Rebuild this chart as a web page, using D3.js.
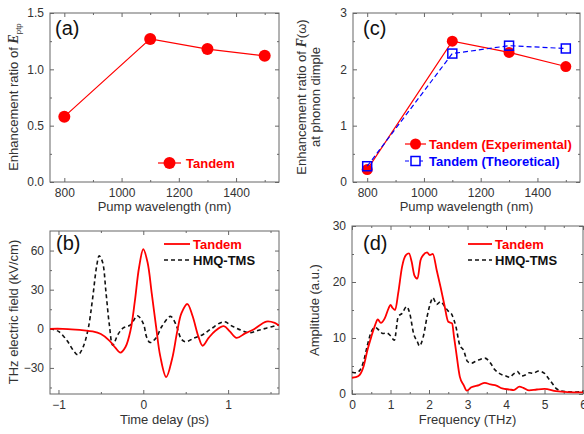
<!DOCTYPE html>
<html>
<head>
<meta charset="utf-8">
<script src="https://cdn.jsdelivr.net/npm/d3@7"></script>
<style>
  body { margin: 0; background: #fff; }
  svg { display: block; font-family: Arial, "Liberation Sans", sans-serif; }
  .tick text { fill: #333; font-size: 12px; }
  .domain { display: none; }
  .tick line { stroke: #666; }
</style>
</head>
<body>
<svg id="fig" width="584" height="434"></svg>
<script>
// panel (a) + (c): enhancement ratios vs pump wavelength
const pumpWave = [800, 1100, 1300, 1500];
const eptpTandem = [0.58, 1.27, 1.18, 1.12];
const fwExp = [0.22, 2.5, 2.3, 2.05];
const fwTheo = [0.28, 2.28, 2.42, 2.37];

// panel (b): THz waveforms [time ps, field kV/cm]
const waveTandem = [[-1.1,0],[-0.95,0],[-0.8,-0.6],[-0.7,-1.2],[-0.6,-2],[-0.5,-4],[-0.4,-9],[-0.33,-14.5],[-0.27,-18.3],[-0.21,-14],
  [-0.15,-1],[-0.1,21],[-0.05,47],[0,61],[0.05,51],[0.1,27],[0.15,2],[0.2,-21],[0.27,-37],[0.34,-23],[0.4,-2],
  [0.45,12],[0.52,19],[0.58,10],[0.65,-6],[0.7,-13],[0.77,-7],[0.85,-1.5],[0.95,2],[1.02,-2],[1.1,-7],[1.2,-3.5],
  [1.3,-0.5],[1.45,5.5],[1.55,4.5],[1.6,2.5]];
const waveHmq = [[-1.1,0],[-1.0,-2],[-0.9,-9],[-0.82,-17],[-0.77,-20],[-0.71,-14],[-0.65,0],[-0.6,22],[-0.55,48],[-0.52,56],
  [-0.48,51],[-0.44,28],[-0.4,3],[-0.36,-12.5],[-0.3,-4.5],[-0.24,0.5],[-0.15,3],[-0.07,10],[0,4],[0.04,-6.5],
  [0.08,-10.5],[0.15,-7],[0.22,2],[0.32,9.5],[0.38,4],[0.45,-8],[0.5,-10],[0.6,-7],[0.7,-4.5],[0.8,0],[0.95,5.4],
  [1.05,2],[1.15,-1],[1.25,-3],[1.35,-1.3],[1.45,0.5],[1.6,3]];

// panel (d): amplitude spectra [frequency THz, amplitude a.u.]
const specTandem = [[0,2.9],[0.1,3],[0.2,3.4],[0.3,4.9],[0.4,7.8],[0.5,10.2],[0.6,12.3],[0.67,13.3],[0.75,12.7],[0.85,13.5],
  [0.95,15.3],[1.0,15.9],[1.05,15.4],[1.12,15],[1.2,18],[1.3,22.7],[1.4,24.8],[1.48,25.1],[1.55,23.6],[1.62,21.2],
  [1.7,20.6],[1.78,23.9],[1.85,24.8],[1.95,25.3],[2.02,24.8],[2.1,25],[2.2,22.1],[2.3,19.1],[2.4,15.9],[2.5,12.9],
  [2.6,12.6],[2.65,10.2],[2.7,7.8],[2.8,3.1],[2.9,1.6],[2.98,0.6],[3.1,1.2],[3.3,1.6],[3.45,2],[3.6,1.7],[3.75,1.5],
  [3.9,1],[4.1,0.8],[4.2,0.7],[4.35,1.3],[4.45,1.1],[4.6,0.65],[4.8,0.8],[5.0,0.9],[5.3,0.5],[5.6,0.35],[6,0.3]];
const specHmq = [[0,3.9],[0.1,3.8],[0.2,4.2],[0.3,5.8],[0.4,8.7],[0.5,11.1],[0.6,11.9],[0.7,11.4],[0.8,10.8],[0.9,10.9],
  [1.0,10.4],[1.1,9.6],[1.2,13.8],[1.3,14.4],[1.42,15.6],[1.5,14.4],[1.6,10.8],[1.7,9.3],[1.75,8.6],[1.85,10.2],
  [1.95,13.8],[2.05,16.5],[2.1,17.2],[2.2,16],[2.3,16.5],[2.4,15.7],[2.5,14.8],[2.6,14.1],[2.7,12],[2.8,8.7],
  [2.9,7.8],[3.0,5.8],[3.1,5.5],[3.2,5.8],[3.3,6.1],[3.45,6.4],[3.6,5.5],[3.7,4.4],[3.8,3.8],[4.0,3.2],[4.1,3],
  [4.2,3.6],[4.3,4],[4.4,3.2],[4.5,3.4],[4.6,3.8],[4.7,3.7],[4.85,4.1],[5.0,3.7],[5.1,2.8],[5.2,1.9],[5.3,1],
  [5.4,0.6],[5.6,0.4],[5.8,0.35],[6.0,0.5]];

const RED = "#ff0000", BLUE = "#0000ff", FRAME = "#666";
const svg = d3.select("#fig");

// builds frame, inward ticks on all four sides, returns scales + group
function makePanel(id, box, xDom, yDom, xT, xM, yT, yM, xFmt, yFmt) {
  const x = d3.scaleLinear().domain(xDom).range([box.l, box.r]);
  const y = d3.scaleLinear().domain(yDom).range([box.b, box.t]);
  const g = svg.append("g").attr("id", id);

  g.append("g").attr("transform", `translate(0,${box.b})`)
    .call(d3.axisBottom(x).tickValues(xT).tickSizeInner(-4).tickSizeOuter(0).tickPadding(6).tickFormat(xFmt));
  g.append("g").attr("transform", `translate(0,${box.b})`)
    .call(d3.axisBottom(x).tickValues(xM).tickSizeInner(-2).tickSizeOuter(0).tickFormat(""));
  g.append("g").attr("transform", `translate(0,${box.t})`)
    .call(d3.axisTop(x).tickValues(xT).tickSizeInner(-4).tickSizeOuter(0).tickFormat(""));
  g.append("g").attr("transform", `translate(0,${box.t})`)
    .call(d3.axisTop(x).tickValues(xM).tickSizeInner(-2).tickSizeOuter(0).tickFormat(""));

  g.append("g").attr("transform", `translate(${box.l},0)`)
    .call(d3.axisLeft(y).tickValues(yT).tickSizeInner(-4).tickSizeOuter(0).tickPadding(6).tickFormat(yFmt));
  g.append("g").attr("transform", `translate(${box.l},0)`)
    .call(d3.axisLeft(y).tickValues(yM).tickSizeInner(-2).tickSizeOuter(0).tickFormat(""));
  g.append("g").attr("transform", `translate(${box.r},0)`)
    .call(d3.axisRight(y).tickValues(yT).tickSizeInner(-4).tickSizeOuter(0).tickFormat(""));
  g.append("g").attr("transform", `translate(${box.r},0)`)
    .call(d3.axisRight(y).tickValues(yM).tickSizeInner(-2).tickSizeOuter(0).tickFormat(""));

  g.append("rect")
    .attr("x", box.l).attr("y", box.t)
    .attr("width", box.r - box.l).attr("height", box.b - box.t)
    .attr("fill", "none").attr("stroke", FRAME).attr("stroke-width", 1);

  g.append("clipPath").attr("id", id + "-clip")
    .append("rect").attr("x", box.l).attr("y", box.t)
    .attr("width", box.r - box.l).attr("height", box.b - box.t);

  return {x, y, g, box};
}

function xTitle(p, txt, yPos) {
  p.g.append("text").attr("x", (p.box.l + p.box.r) / 2).attr("y", yPos)
    .attr("text-anchor", "middle").attr("font-size", 13).attr("fill", "#333").text(txt);
}
function panelLabel(p, txt, x, y) {
  p.g.append("text").attr("x", x).attr("y", y).attr("font-size", 20).attr("fill", "#111").text(txt);
}
function legendText(g, x, y, txt, col) {
  g.append("text").attr("x", x).attr("y", y).attr("dy", "0.35em")
    .attr("font-size", 13).attr("font-weight", "bold").attr("fill", col).text(txt);
}

const wFmt = d3.format("d");
const wMinor = [900, 1100, 1300, 1500];

// ---------- (a)
const pa = makePanel("pa", {l: 50, r: 279, t: 13, b: 182}, [750, 1550], [0, 1.5],
  [800, 1000, 1200, 1400], wMinor, [0, 0.5, 1.0, 1.5], [0.25, 0.75, 1.25], wFmt, d3.format(".1f"));

const lineA = d3.line().x((d, i) => pa.x(pumpWave[i])).y(d => pa.y(d));
pa.g.append("path").datum(eptpTandem).attr("d", lineA)
  .attr("fill", "none").attr("stroke", RED).attr("stroke-width", 1.2);
pa.g.selectAll(".dotA").data(eptpTandem).join("circle")
  .attr("cx", (d, i) => pa.x(pumpWave[i])).attr("cy", d => pa.y(d)).attr("r", 6).attr("fill", RED);
pa.g.append("line").attr("x1", 158).attr("x2", 181).attr("y1", 163).attr("y2", 163)
  .attr("stroke", RED).attr("stroke-width", 1.2);
pa.g.append("circle").attr("cx", 169.5).attr("cy", 163).attr("r", 6).attr("fill", RED);
legendText(pa.g, 186, 163, "Tandem", RED);
panelLabel(pa, "(a)", 55, 35);
xTitle(pa, "Pump wavelength (nm)", 211);
const ya = pa.g.append("text").attr("transform", "translate(18,97) rotate(-90)")
  .attr("text-anchor", "middle").attr("font-size", 13).attr("fill", "#333");
ya.append("tspan").text("Enhancement ratio of ");
ya.append("tspan").attr("font-family", "'Liberation Serif', serif").attr("font-style", "italic")
  .attr("font-weight", "bold").attr("font-size", 14).text("E");
ya.append("tspan").attr("font-size", 8).attr("dy", 3).text("ptp");

// ---------- (c)
const pc = makePanel("pc", {l: 353, r: 580, t: 13, b: 182}, [750, 1550], [0, 3],
  [800, 1000, 1200, 1400], wMinor, [0, 1, 2, 3], [0.5, 1.5, 2.5], wFmt, d3.format("d"));

const lineC = d3.line().x((d, i) => pc.x(pumpWave[i])).y(d => pc.y(d));
pc.g.append("path").datum(fwExp).attr("d", lineC)
  .attr("fill", "none").attr("stroke", RED).attr("stroke-width", 1.2);
pc.g.selectAll(".dotC").data(fwExp).join("circle")
  .attr("cx", (d, i) => pc.x(pumpWave[i])).attr("cy", d => pc.y(d)).attr("r", 5.5).attr("fill", RED);
pc.g.append("path").datum(fwTheo).attr("d", lineC)
  .attr("fill", "none").attr("stroke", BLUE).attr("stroke-width", 1.2).attr("stroke-dasharray", "5,3");
pc.g.selectAll(".sqC").data(fwTheo).join("rect")
  .attr("x", (d, i) => pc.x(pumpWave[i]) - 4.5).attr("y", d => pc.y(d) - 4.5)
  .attr("width", 9).attr("height", 9).attr("fill", "none").attr("stroke", BLUE).attr("stroke-width", 1.5);

pc.g.append("line").attr("x1", 405).attr("x2", 426).attr("y1", 144).attr("y2", 144)
  .attr("stroke", RED).attr("stroke-width", 1.2);
pc.g.append("circle").attr("cx", 415.5).attr("cy", 144).attr("r", 5.5).attr("fill", RED);
legendText(pc.g, 429, 144, "Tandem (Experimental)", RED);
pc.g.append("line").attr("x1", 405).attr("x2", 426).attr("y1", 161).attr("y2", 161)
  .attr("stroke", BLUE).attr("stroke-width", 1.2).attr("stroke-dasharray", "4,3");
pc.g.append("rect").attr("x", 411).attr("y", 156.5).attr("width", 9).attr("height", 9)
  .attr("fill", "#fff").attr("stroke", BLUE).attr("stroke-width", 1.5);
legendText(pc.g, 429, 161, "Tandem (Theoretical)", BLUE);
panelLabel(pc, "(c)", 363, 35);
xTitle(pc, "Pump wavelength (nm)", 211);
const yc = pc.g.append("text").attr("transform", "translate(306,97) rotate(-90)")
  .attr("text-anchor", "middle").attr("font-size", 13).attr("fill", "#333");
yc.append("tspan").text("Enhancement ratio of ");
yc.append("tspan").attr("font-family", "'Liberation Serif', serif").attr("font-style", "italic")
  .attr("font-weight", "bold").attr("font-size", 14).text("F");
yc.append("tspan").text("(ω)");
pc.g.append("text").attr("transform", "translate(320,97) rotate(-90)")
  .attr("text-anchor", "middle").attr("font-size", 13).attr("fill", "#333").text("at phonon dimple");

// ---------- (b)
const pb = makePanel("pb", {l: 50, r: 279, t: 231, b: 394}, [-1.1, 1.6], [-50, 75],
  [-1, 0, 1], [-0.5, 0.5, 1.5], [-30, 0, 30, 60], [-45, -15, 15, 45], d3.format("d"), d3.format("d"));
const lineB = d3.line().x(d => pb.x(d[0])).y(d => pb.y(d[1])).curve(d3.curveCatmullRom.alpha(0.5));
pb.g.append("path").datum(waveHmq).attr("d", lineB).attr("clip-path", "url(#pb-clip)")
  .attr("fill", "none").attr("stroke", "#111").attr("stroke-width", 1.6).attr("stroke-dasharray", "4,3");
pb.g.append("path").datum(waveTandem).attr("d", lineB).attr("clip-path", "url(#pb-clip)")
  .attr("fill", "none").attr("stroke", RED).attr("stroke-width", 1.8);
pb.g.append("line").attr("x1", 164).attr("x2", 190).attr("y1", 244).attr("y2", 244)
  .attr("stroke", RED).attr("stroke-width", 1.8);
legendText(pb.g, 193, 244, "Tandem", RED);
pb.g.append("line").attr("x1", 164).attr("x2", 190).attr("y1", 260).attr("y2", 260)
  .attr("stroke", "#111").attr("stroke-width", 1.6).attr("stroke-dasharray", "4,3");
legendText(pb.g, 193, 260, "HMQ-TMS", "#111");
panelLabel(pb, "(b)", 56, 250);
xTitle(pb, "Time delay (ps)", 424);
pb.g.append("text").attr("transform", "translate(18,312) rotate(-90)")
  .attr("text-anchor", "middle").attr("font-size", 13).attr("fill", "#333").text("THz electric field (kV/cm)");

// ---------- (d)
const pd = makePanel("pd", {l: 352, r: 583, t: 226, b: 394}, [0, 6], [0, 30],
  [0, 1, 2, 3, 4, 5, 6], [0.5, 1.5, 2.5, 3.5, 4.5, 5.5], [0, 10, 20, 30], [5, 15, 25], d3.format("d"), d3.format("d"));
const lineD = d3.line().x(d => pd.x(d[0])).y(d => pd.y(d[1])).curve(d3.curveMonotoneX);
pd.g.append("path").datum(specHmq).attr("d", lineD).attr("clip-path", "url(#pd-clip)")
  .attr("fill", "none").attr("stroke", "#111").attr("stroke-width", 1.6).attr("stroke-dasharray", "4,3");
pd.g.append("path").datum(specTandem).attr("d", lineD).attr("clip-path", "url(#pd-clip)")
  .attr("fill", "none").attr("stroke", RED).attr("stroke-width", 1.8);
pd.g.append("line").attr("x1", 468).attr("x2", 492).attr("y1", 244).attr("y2", 244)
  .attr("stroke", RED).attr("stroke-width", 1.8);
legendText(pd.g, 495, 244, "Tandem", RED);
pd.g.append("line").attr("x1", 468).attr("x2", 492).attr("y1", 260).attr("y2", 260)
  .attr("stroke", "#111").attr("stroke-width", 1.6).attr("stroke-dasharray", "4,3");
legendText(pd.g, 495, 260, "HMQ-TMS", "#111");
panelLabel(pd, "(d)", 363, 250);
xTitle(pd, "Frequency (THz)", 424);
pd.g.append("text").attr("transform", "translate(319,310) rotate(-90)")
  .attr("text-anchor", "middle").attr("font-size", 13).attr("fill", "#333").text("Amplitude (a.u.)");
</script>
</body>
</html>
